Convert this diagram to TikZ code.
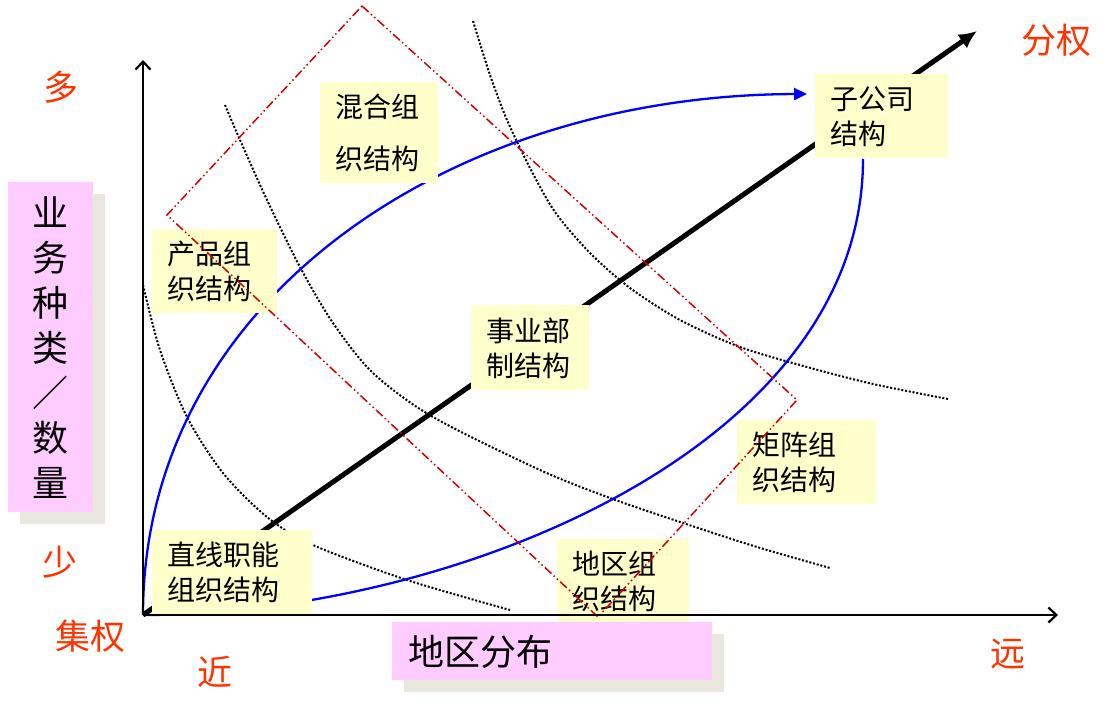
\documentclass[tikz,border=0pt]{standalone}
\usepackage{fontspec}
\setmainfont{Noto Sans CJK SC}
\usetikzlibrary{arrows.meta,shadows}
\definecolor{labelred}{HTML}{FF3300}
\definecolor{boxyellow}{HTML}{FFFFCC}
\definecolor{boxpink}{HTML}{FFCCFF}
\definecolor{boxshadow}{HTML}{EAE8DE}
\definecolor{dashred}{HTML}{D00000}
\begin{document}
\begin{tikzpicture}[x=1pt, y=-1pt, >=Stealth, thick,
		kuang/.style={fill=boxyellow, anchor=north west, inner xsep=15pt, inner ysep=0pt, align=left, font=\fontsize{28}{35}\selectfont},
		fenlei/.style={fill=boxpink, anchor=north west, general shadow={fill=boxshadow, shadow xshift=12pt, shadow yshift=-12pt}, font=\fontsize{36}{45}\selectfont},
		biaoqian/.style={text=labelred, font=\fontsize{35}{40}\selectfont},
		dianxian/.style={line width=2pt, dash pattern=on 2pt off 1.8pt},
		lanxian/.style={blue, line width=2.3pt},
		hongxian/.style={dashred, line width=1.5pt, dash pattern=on 9pt off 3pt on 1.5pt off 3pt on 1.5pt off 3pt},
		zhou/.style={line width=2.2pt, -{Straight Barb[length=8pt,width=15pt]}}]
	\useasboundingbox (0,0) rectangle (1116,714);
	
	% 1. 关键坐标
	\coordinate (O) at (143,615);
	\coordinate (ytop) at (143,60);
	\coordinate (xend) at (1058,615);
	\coordinate (quanTip) at (977,31);
	\coordinate (lanTip) at (807,94);
	\coordinate (lanEnd) at (863,159);
	
	% 2. 点状分界曲线
	\draw[dianxian] plot[smooth] coordinates {(143,285) (160,350) (187,417) (223,473) (267,517) (313,545) (407,580) (510,610)};
	\draw[dianxian] plot[smooth] coordinates {(225,105) (240,140) (267,200) (300,267) (333,323) (373,373) (433,417) (540,470) (610,498) (683,523) (757,547) (830,568)};
	\draw[dianxian] plot[smooth] coordinates {(473,21) (490,75) (507,120) (530,168) (555,212) (590,253) (630,288) (680,320) (740,347) (807,367) (873,384) (948,399)};
	
	% 3. 蓝色包络线与集权-分权主轴
	\draw[lanxian, -{Triangle[length=13pt,width=12pt]}] (O) .. controls (143,300) and (450,95) .. (lanTip);
	\draw[lanxian] (O) .. controls (450,615) and (863,450) .. (lanEnd);
	\draw[line width=5pt, -{Latex[length=18pt,width=17pt]}] (O) -- (quanTip);
	
	% 4. 组织结构方框
	\node[kuang, text width=88pt, minimum height=101pt, font=\fontsize{28}{52}\selectfont] (hunhe) at (320,82) {混合组\\织结构};
	\node[kuang, text width=95pt, minimum height=84pt] (chanpin) at (152,229) {产品组\\织结构};
	\node[kuang, text width=88pt, minimum height=85pt] (shiyebu) at (471,305) {事业部\\制结构};
	\node[kuang, text width=103pt, minimum height=84pt] (zigongsi) at (815,74) {子公司\\结构};
	\node[kuang, text width=109pt, minimum height=84pt] (juzhen) at (737,420) {矩阵组\\织结构};
	\node[kuang, text width=130pt, minimum height=84pt] (zhixian) at (152,530) {直线职能\\组织结构};
	\node[kuang, text width=102pt, minimum height=83pt] (diquzu) at (557,539) {地区组\\织结构};
	
	% 5. 红色点划线范围
	\draw[hongxian] (362,6) -- (797,400) -- (598,617) -- (167,215) -- cycle;
	
	% 6. 坐标轴
	\draw[zhou] (O) -- (ytop);
	\draw[zhou] (O) -- (xend);
	
	% 7. 轴名称
	\node[fenlei, minimum width=85pt, minimum height=330pt, inner sep=0pt, align=center] (yewu) at (8,182) {业\\务\\种\\类\\／\\数\\量};
	\node[fenlei, minimum height=58pt, inner xsep=16pt, inner ysep=0pt, text width=288pt, align=left] (diqu) at (392,622) {地区分布};
	
	% 8. 两端标注
	\node[biaoqian] (duo) at (61,87) {多};
	\node[biaoqian] (shao) at (60,562) {少};
	\node[biaoqian] (jiquan) at (90,636) {集权};
	\node[biaoqian] (jin) at (215,672) {近};
	\node[biaoqian] (yuan) at (1008,654) {远};
	\node[biaoqian] (fenquan) at (1056,40) {分权};
\end{tikzpicture}
\end{document}
